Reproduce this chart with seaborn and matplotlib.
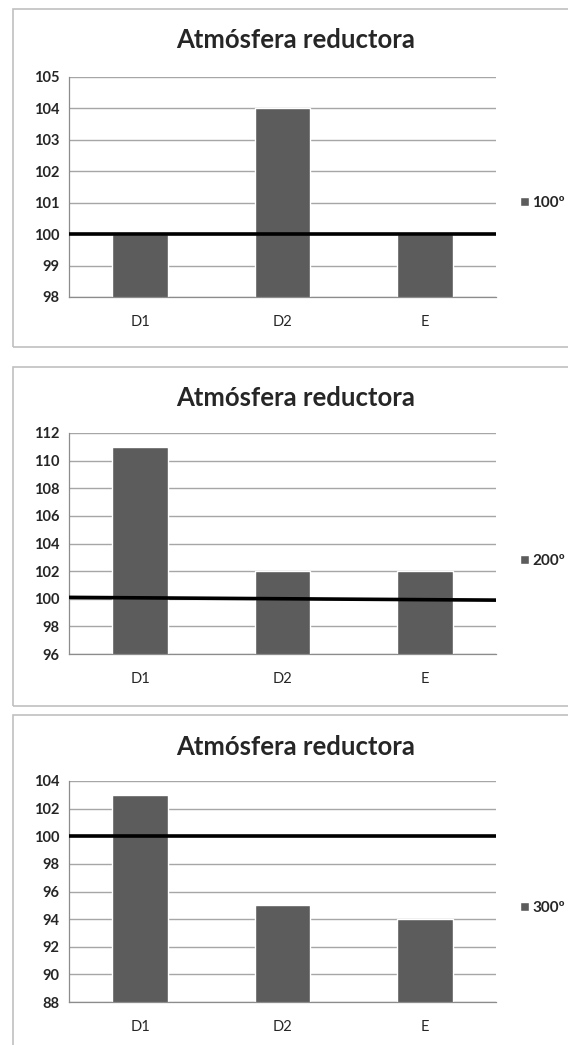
import matplotlib
matplotlib.use("Agg")
import matplotlib.pyplot as plt
import seaborn as sns
from matplotlib.patches import Rectangle

# --- data ---
categories = ["D1", "D2", "E"]
series_labels = ["100º", "200º", "300º"]
values_100 = [100, 104, 100]
values_200 = [111, 102, 102]
values_300 = [103, 95, 94]
ref_100 = [100, 100]
ref_200 = [100.1, 99.9]
ref_300 = [100, 100]
ylims = [(98, 105), (96, 112), (88, 104)]
ysteps = [1, 2, 2]
title = "Atmósfera reductora"

BAR = "#5c5c5c"
GRID = "#a6a6a6"
FRAME = "#c0c0c0"

sns.set_style("white")
plt.rcParams["font.family"] = ["Lato", "DejaVu Sans"]

fig = plt.figure(figsize=(5.68, 10.45), dpi=100)
W, H = 568, 1045

# pixel layout of each chart block: (frame top, frame bottom, axes top, axes bottom, title y, legend y)
blocks = [
    (9, 347, 77, 297, 40, 203),
    (367, 706, 433, 654, 398, 561),
    (715, 1060, 781, 1002, 747, 908),
]
series = [values_100, values_200, values_300]
refs = [ref_100, ref_200, ref_300]

for i, (ftop, fbot, atop, abot, ty, ly) in enumerate(blocks):
    # chart frame
    fig.patches.append(Rectangle((13 / W, 1 - fbot / H), (600 - 13) / W, (fbot - ftop) / H,
                                 transform=fig.transFigure, fill=False,
                                 edgecolor=FRAME, linewidth=1.2, zorder=0))
    ax = fig.add_axes([69 / W, 1 - abot / H, 427 / W, (abot - atop) / H])
    sns.barplot(x=categories, y=series[i], color=BAR, width=0.39, saturation=1,
                ax=ax, label=series_labels[i], zorder=2)
    lo, hi = ylims[i]
    ax.set_ylim(lo, hi)
    ax.set_xlim(-0.5, len(categories) - 0.5)
    ax.set_yticks(range(lo, hi + 1, ysteps[i]))
    ax.yaxis.grid(True, color=GRID, linewidth=1.0, zorder=0)
    ax.set_axisbelow(True)
    ax.plot([-0.5, len(categories) - 0.5], refs[i], color="black", linewidth=2.6,
            solid_capstyle="butt", zorder=3)

    for s in ["top", "right"]:
        ax.spines[s].set_visible(False)
    for s in ["left", "bottom"]:
        ax.spines[s].set_color("#8c8c8c")
        ax.spines[s].set_linewidth(0.9)

    ax.tick_params(axis="y", length=4, width=0.8, color="#8c8c8c", pad=3,
                   labelsize=10.5)
    for lab in ax.get_yticklabels():
        lab.set_fontweight("bold")
    ax.tick_params(axis="x", length=0, pad=13, labelsize=10.5)
    if i > 0:
        ax.set_xticks([0.5, 1.5], minor=True)
        ax.tick_params(axis="x", which="minor", length=4, width=0.8, color="#8c8c8c")

    fig.text(296 / W, 1 - ty / H, title, ha="center", va="center",
             fontsize=18.5, fontweight="bold")

    leg = ax.legend(loc="center left", bbox_to_anchor=(520 / W, 1 - ly / H),
                    bbox_transform=fig.transFigure, frameon=False, fontsize=11,
                    handlelength=0.6, handleheight=0.6, handletextpad=0.2,
                    borderaxespad=0, borderpad=0)
    for t in leg.get_texts():
        t.set_fontweight("bold")

fig.savefig("out.png", dpi=100)
